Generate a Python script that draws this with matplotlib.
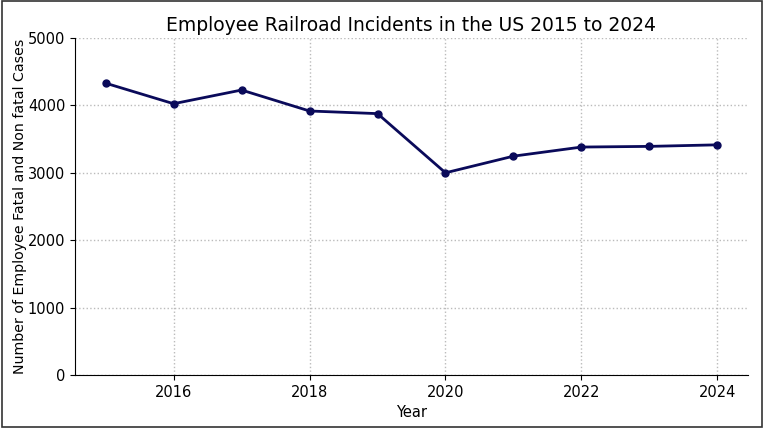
import matplotlib
matplotlib.use('Agg')
import matplotlib.pyplot as plt

# 数据
years = [2015, 2016, 2017, 2018, 2019, 2020, 2021, 2022, 2023, 2024]
cases = [4330, 4025, 4228, 3917, 3878, 3000, 3247, 3382, 3392, 3415]

fig = plt.figure(figsize=(7.64, 4.28), dpi=100)
ax = fig.add_axes([75 / 764, 1 - 375 / 428, 673 / 764, 337 / 428])

ax.plot(years, cases, color='#0a0a5a', linewidth=2, marker='o', markersize=5)

ax.set_ylim(0, 5000)
ax.set_yticks([0, 1000, 2000, 3000, 4000, 5000])
ax.set_xticks([2016, 2018, 2020, 2022, 2024])
ax.tick_params(labelsize=10.5, length=3.5)
ax.grid(True, linestyle=':', color='#bbbbbb', linewidth=1)
ax.spines['top'].set_visible(False)
ax.spines['right'].set_visible(False)

ax.set_title('Employee Railroad Incidents in the US 2015 to 2024', fontsize=13.5, pad=5)
ax.set_xlabel('Year', fontsize=10.5)
ax.set_ylabel('Number of Employee Fatal and Non fatal Cases', fontsize=10.2)
ax.yaxis.set_label_coords(-0.072, 0.5)

# 外框
fig.patches.append(plt.Rectangle((0.002, 0.003), 0.996, 0.994, transform=fig.transFigure,
                                 fill=False, edgecolor='#333333', linewidth=1.2))

fig.savefig('out.png', dpi=100)
